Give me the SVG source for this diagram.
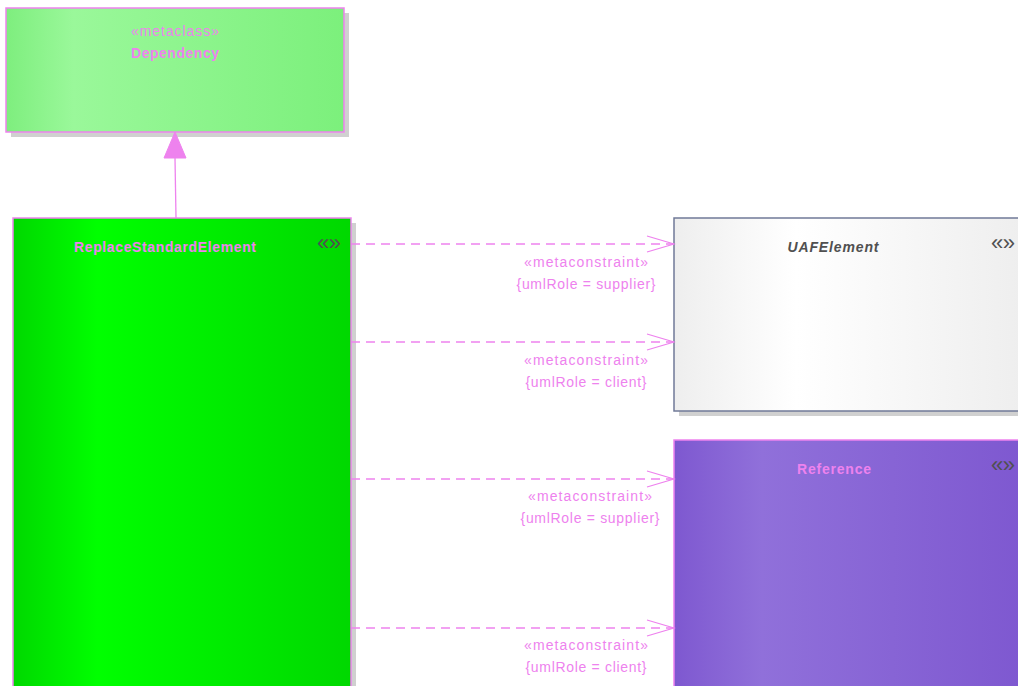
<svg xmlns="http://www.w3.org/2000/svg" width="1018" height="686" viewBox="0 0 1018 686">
<style>
text{font-family:"Liberation Sans","DejaVu Sans",sans-serif;}
.lbl{font-size:14px;fill:#EE82EE;text-anchor:middle;}
.name{font-size:14px;font-weight:bold;fill:#EE82EE;text-anchor:middle;}
.icon{font-size:22px;fill:#505050;text-anchor:end;}
.conn{stroke:#EE82EE;stroke-width:1.3;fill:none;}
.dash{stroke-dasharray:9,6;}
.shadow{fill:#D0D0D0;}
</style>
<defs>
<linearGradient id="gDep" x1="0" x2="1" y1="0" y2="0">
<stop offset="0" stop-color="#7EEE7E"/><stop offset="0.2" stop-color="#9AF89A"/><stop offset="1" stop-color="#7CF07C"/>
</linearGradient>
<linearGradient id="gRep" x1="0" x2="1" y1="0" y2="0">
<stop offset="0" stop-color="#00D800"/><stop offset="0.25" stop-color="#00FF00"/><stop offset="1" stop-color="#00D800"/>
</linearGradient>
<linearGradient id="gUaf" x1="0" x2="1" y1="0" y2="0">
<stop offset="0" stop-color="#EEEEEE"/><stop offset="0.35" stop-color="#FFFFFF"/><stop offset="1" stop-color="#EEEEEE"/>
</linearGradient>
<linearGradient id="gRef" x1="0" x2="1" y1="0" y2="0">
<stop offset="0" stop-color="#7E58D0"/><stop offset="0.25" stop-color="#9070DA"/><stop offset="1" stop-color="#7E58D0"/>
</linearGradient>
<marker id="open" markerWidth="30" markerHeight="20" refX="28" refY="9" orient="auto" markerUnits="userSpaceOnUse">
<path d="M1,1 L28,9 L1,17" fill="none" stroke="#EE82EE" stroke-width="1.3"/>
</marker>
</defs>

<g id="Dependency">
<rect class="shadow" x="11" y="13" width="338" height="124"/>
<rect x="6" y="8" width="338" height="124" fill="url(#gDep)" stroke="#EE82EE" stroke-width="1.5"/>
<text class="lbl" x="175" y="36" textLength="88">«metaclass»</text>
<text class="name" x="175" y="58" textLength="88">Dependency</text>
</g>

<g id="ReplaceStandardElement">
<rect class="shadow" x="18" y="223" width="338" height="470"/>
<rect x="13" y="218" width="338" height="475" fill="url(#gRep)" stroke="#EE82EE" stroke-width="1.5"/>
<text class="name" x="165" y="252" textLength="182">ReplaceStandardElement</text>
<text class="icon" x="341" y="250" textLength="24">«»</text>
</g>

<g id="UAFElement">
<rect class="shadow" x="679" y="223" width="345" height="193"/>
<rect x="674" y="218" width="350" height="193" fill="url(#gUaf)" stroke="#707A98" stroke-width="1.5"/>
<text x="833" y="252" font-size="14" font-weight="bold" font-style="italic" fill="#505050" text-anchor="middle" textLength="91">UAFElement</text>
<text class="icon" x="1015" y="250" textLength="24">«»</text>
</g>

<g id="Reference">
<rect x="674" y="440" width="350" height="253" fill="url(#gRef)" stroke="#EE82EE" stroke-width="1.5"/>
<text class="name" x="834" y="474" textLength="74">Reference</text>
<text class="icon" x="1015" y="472" textLength="24">«»</text>
</g>

<g id="connectors">
<path class="conn" d="M176,218 L175,158"/>
<path d="M175,132 L164,158 L186,158 Z" fill="#EE82EE" stroke="#EE82EE" stroke-width="1"/>
<path class="conn dash" d="M351,244 L674,244" marker-end="url(#open)"/>
<path class="conn dash" d="M351,342 L674,342" marker-end="url(#open)"/>
<path class="conn dash" d="M351,479 L674,479" marker-end="url(#open)"/>
<path class="conn dash" d="M351,628 L674,628" marker-end="url(#open)"/>
<text class="lbl" x="586" y="267" textLength="124">«metaconstraint»</text>
<text class="lbl" x="586" y="289" textLength="139">{umlRole = supplier}</text>
<text class="lbl" x="586" y="365" textLength="124">«metaconstraint»</text>
<text class="lbl" x="586" y="387" textLength="121">{umlRole = client}</text>
<text class="lbl" x="590" y="501" textLength="124">«metaconstraint»</text>
<text class="lbl" x="590" y="523" textLength="139">{umlRole = supplier}</text>
<text class="lbl" x="586" y="650" textLength="124">«metaconstraint»</text>
<text class="lbl" x="586" y="672" textLength="121">{umlRole = client}</text>
</g>
</svg>
